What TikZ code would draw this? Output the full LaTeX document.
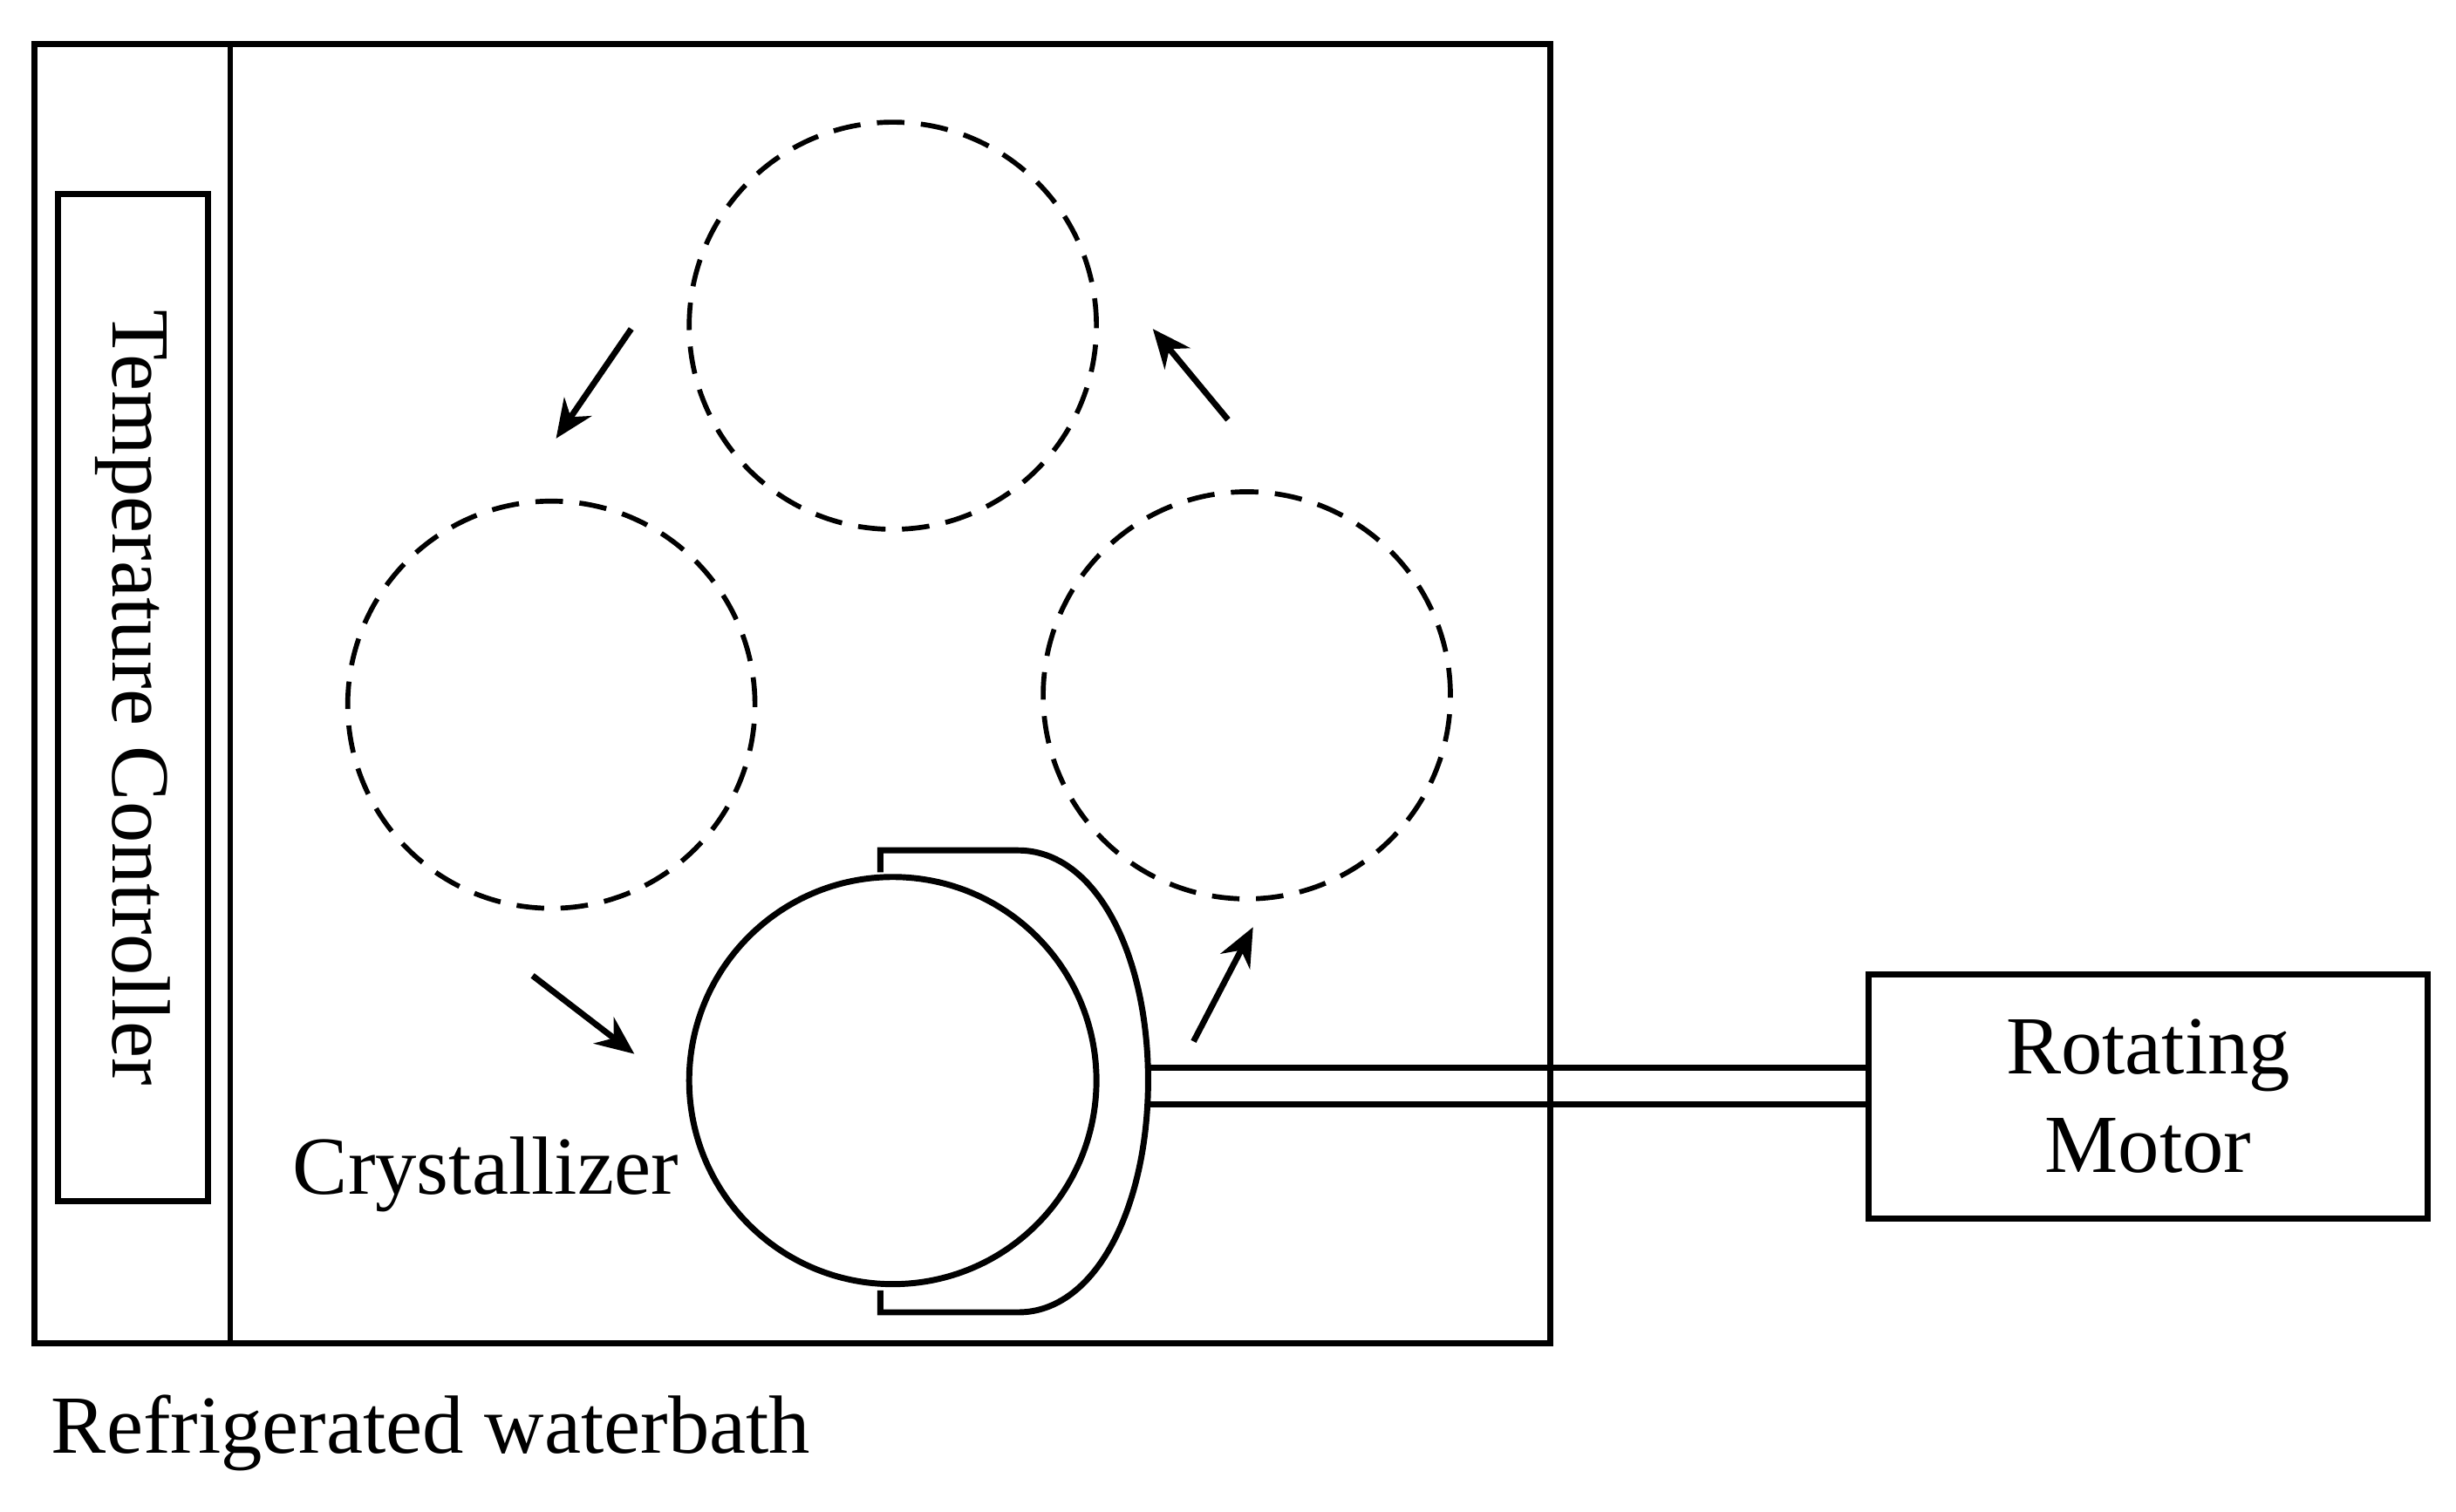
\documentclass[tikz,border=0pt]{standalone}
\usepackage{fontspec}
\setmainfont{Liberation Serif}
\usetikzlibrary{arrows.meta}
\begin{document}
\begin{tikzpicture}[
        x=0.1mm, y=-0.1mm,
        font=\fontsize{15}{18}\selectfont,
        frame/.style={draw=black, line width=1.1pt},
        spot/.style={circle, draw=black, dashed, dash pattern=on 5pt off 3pt, line width=0.9pt, minimum size=26mm, inner sep=0pt},
        move/.style={-{Stealth[length=7pt, width=6pt]}, line width=1.1pt}
    ]
        \useasboundingbox (0,0) rectangle (1568,965);

        % Waterbath and controller
        \draw[frame] (22,28) rectangle (990,858);
        \draw[frame] (147,28) -- (147,858);
        \node[frame, minimum width=9.6mm, minimum height=64.3mm, inner sep=0pt] (ctrl) at (85,445.5) {};
        \node[rotate=-90] (ctrltxt) at (ctrl.center) {Temperature Controller};

        % Positions of the crystallizer
        \node[spot] (top) at (570,208) {};
        \node[spot] (left) at (352,450) {};
        \node[spot] (right) at (796,444) {};

        % Crystallizer and holder
        \draw[frame] (562,557) -- (562,543) -- (650,543)
            .. controls (700,543) and (733,610) .. (733,690)
            .. controls (733,770) and (700,838) .. (650,838) -- (562,838) -- (562,824);
        \node[circle, frame, minimum size=26mm, inner sep=0pt] (cryst) at (570,690) {};
        \node (crystlbl) at (310,750) {Crystallizer};

        % Shaft and motor
        \node[frame, minimum width=35.7mm, minimum height=15.6mm] (motor) at (1371.5,700) {};
        \node[align=center] (motortxt) at (motor.center) {Rotating\\Motor};
        \coordinate (s1) at (733,682);
        \coordinate (s2) at (733,705);
        \draw[frame] (s1) -- (s1 -| motor.west);
        \draw[frame] (s2) -- (s2 -| motor.west);

        % Arrows
        \draw[move] (403,210) -- (355,280);
        \draw[move] (340,623) -- (405,673);
        \draw[move] (762,665) -- (800,592);
        \draw[move] (784,268) -- (736,210);

        \node (bath) at (275,915) {Refrigerated waterbath};
    \end{tikzpicture}
\end{document}
